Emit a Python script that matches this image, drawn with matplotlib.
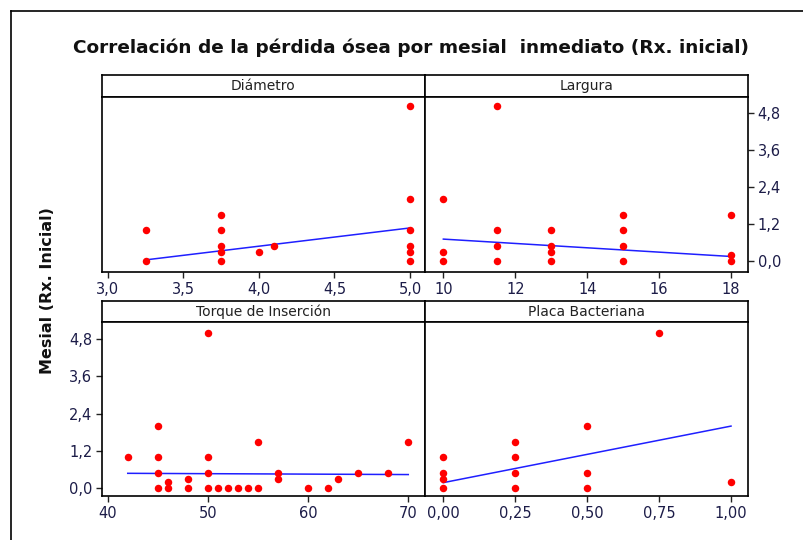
import matplotlib

matplotlib.use("Agg")
import matplotlib.pyplot as plt
from matplotlib.lines import Line2D
from matplotlib.ticker import FixedLocator, FixedFormatter

# Mesial bone loss (Rx. inicial) against each implant / patient factor
mesial_ticks = [0.0, 1.2, 2.4, 3.6, 4.8]
mesial_labels = ["0,0", "1,2", "2,4", "3,6", "4,8"]

diam_x = [3.25, 3.25, 3.75, 3.75, 3.75, 3.75, 3.75, 4.0, 4.1, 5.0, 5.0, 5.0, 5.0, 5.0, 5.0]
diam_y = [1.0, 0.0, 1.5, 1.0, 0.5, 0.3, 0.0, 0.3, 0.5, 5.0, 2.0, 1.0, 0.5, 0.3, 0.0]
diam_fit_x = [3.25, 5.0]
diam_fit_y = [0.05, 1.08]
diam_ticks = [3.0, 3.5, 4.0, 4.5, 5.0]
diam_labels = ["3,0", "3,5", "4,0", "4,5", "5,0"]

larg_x = [10, 10, 10, 11.5, 11.5, 11.5, 11.5, 13, 13, 13, 13, 15, 15, 15, 15, 18, 18, 18]
larg_y = [2.0, 0.3, 0.0, 5.0, 1.0, 0.5, 0.0, 1.0, 0.5, 0.3, 0.0, 1.5, 1.0, 0.5, 0.0, 1.5, 0.2, 0.0]
larg_fit_x = [10, 18]
larg_fit_y = [0.72, 0.16]
larg_ticks = [10, 12, 14, 16, 18]
larg_labels = ["10", "12", "14", "16", "18"]

torq_x = [42, 45, 45, 45, 45, 46, 46, 48, 48, 50, 50, 50, 50, 51, 52, 53, 54,
          55, 55, 57, 57, 60, 62, 63, 65, 68, 70]
torq_y = [1.0, 2.0, 1.0, 0.5, 0.0, 0.2, 0.0, 0.3, 0.0, 5.0, 1.0, 0.5, 0.0, 0.0, 0.0, 0.0, 0.0,
          1.5, 0.0, 0.5, 0.3, 0.0, 0.0, 0.3, 0.5, 0.5, 1.5]
torq_fit_x = [42, 70]
torq_fit_y = [0.48, 0.44]
torq_ticks = [40, 50, 60, 70]
torq_labels = ["40", "50", "60", "70"]

placa_x = [0.0, 0.0, 0.0, 0.0, 0.25, 0.25, 0.25, 0.25, 0.5, 0.5, 0.5, 0.75, 1.0]
placa_y = [1.0, 0.5, 0.3, 0.0, 1.5, 1.0, 0.5, 0.0, 2.0, 0.5, 0.0, 5.0, 0.2]
placa_fit_x = [0.0, 1.0]
placa_fit_y = [0.18, 2.0]
placa_ticks = [0.0, 0.25, 0.5, 0.75, 1.0]
placa_labels = ["0,00", "0,25", "0,50", "0,75", "1,00"]

W, H = 804, 540
tick_color = "#1c1c48"
plt.rcParams["font.family"] = ["DejaVu Sans"]

fig = plt.figure(figsize=(W / 100, H / 100), dpi=100)


def px_box(x0, y0, x1, y1):
    # pixel box (top-left origin) -> figure fraction rect
    return [x0 / W, 1 - y1 / H, (x1 - x0) / W, (y1 - y0) / H]


def strip(x0, y0, x1, y1, text):
    ax = fig.add_axes(px_box(x0, y0, x1, y1))
    ax.set_xticks([])
    ax.set_yticks([])
    for s in ax.spines.values():
        s.set_linewidth(1.2)
    ax.text(0.5, 0.5, text, ha="center", va="center", fontsize=10,
            color="#222222", transform=ax.transAxes)


def panel(box, xs, ys, fx, fy, xticks, xlabels, xlim, ylim, yside):
    ax = fig.add_axes(px_box(*box))
    ax.plot(fx, fy, color="#1f1fff", linewidth=1.1, zorder=2)
    ax.plot(xs, ys, linestyle="none", marker="o", markersize=5.4,
            color="#ff0000", markeredgewidth=0, zorder=3)
    ax.set_xlim(*xlim)
    ax.set_ylim(*ylim)
    ax.xaxis.set_major_locator(FixedLocator(xticks))
    ax.xaxis.set_major_formatter(FixedFormatter(xlabels))
    if yside is None:
        ax.set_yticks([])
    else:
        ax.yaxis.set_major_locator(FixedLocator(mesial_ticks))
        ax.yaxis.set_major_formatter(FixedFormatter(mesial_labels))
        if yside == "right":
            ax.yaxis.tick_right()
    ax.tick_params(direction="out", length=4, width=1, color="#222222",
                   labelsize=10.5, labelcolor=tick_color, pad=3)
    for s in ax.spines.values():
        s.set_linewidth(1.2)
    return ax


# top row
strip(102, 75, 425, 97, "Diámetro")
strip(425, 75, 748, 97, "Largura")
panel((102, 97, 425, 272), diam_x, diam_y, diam_fit_x, diam_fit_y,
      diam_ticks, diam_labels, (2.962, 5.099), (-0.34, 5.30), None)
panel((425, 97, 748, 272), larg_x, larg_y, larg_fit_x, larg_fit_y,
      larg_ticks, larg_labels, (9.49, 18.47), (-0.34, 5.30), "right")

# bottom row
strip(102, 301, 425, 322, "Torque de Inserción")
strip(425, 301, 748, 322, "Placa Bacteriana")
panel((102, 322, 425, 496), torq_x, torq_y, torq_fit_x, torq_fit_y,
      torq_ticks, torq_labels, (39.43, 71.67), (-0.25, 5.35), "left")
panel((425, 322, 748, 496), placa_x, placa_y, placa_fit_x, placa_fit_y,
      placa_ticks, placa_labels, (-0.0636, 1.059), (-0.25, 5.35), None)

fig.text(411 / W, 1 - 48 / H, "Correlación de la pérdida ósea por mesial  inmediato (Rx. inicial)",
         ha="center", va="center", fontsize=13.3, fontweight="bold", color="#111111")
fig.text(48 / W, 1 - 291 / H, "Mesial (Rx. Inicial)", ha="center", va="center",
         rotation=90, fontsize=11.5, fontweight="bold", color="#111111")

# outer frame (left and top edges)
fig.add_artist(Line2D([11 / W, 11 / W], [0, 1 - 11 / H], color="black", linewidth=1.2,
                      transform=fig.transFigure))
fig.add_artist(Line2D([11 / W, 1], [1 - 11 / H, 1 - 11 / H], color="black", linewidth=1.2,
                      transform=fig.transFigure))

fig.savefig("out.png", dpi=100)
